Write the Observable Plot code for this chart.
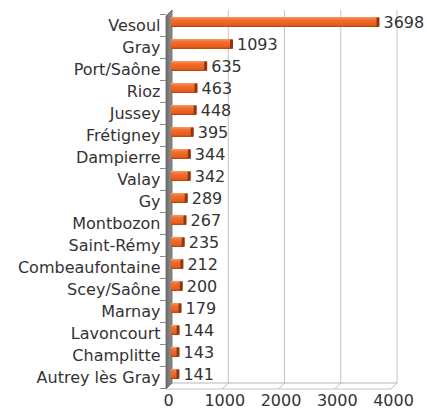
<!DOCTYPE html>
<html>
<head>
<meta charset="utf-8">
<script src="https://cdn.jsdelivr.net/npm/d3@7"></script>
<script src="https://cdn.jsdelivr.net/npm/@observablehq/plot@0.6"></script>
<style>
  body { margin: 0; background: #fff; }
  #chart svg { display: block; font-family: "DejaVu Sans", sans-serif; }
</style>
</head>
<body>
<svg width="0" height="0" style="position:absolute">
  <defs>
    <linearGradient id="barGrad" x1="0" y1="0" x2="0" y2="1">
      <stop offset="0%" stop-color="#f59a66"/>
      <stop offset="30%" stop-color="#f26c2c"/>
      <stop offset="75%" stop-color="#e85f1f"/>
      <stop offset="100%" stop-color="#b54712"/>
    </linearGradient>
    <linearGradient id="wallGrad" x1="0" y1="0" x2="1" y2="0">
      <stop offset="0%" stop-color="#6e6e6e"/>
      <stop offset="100%" stop-color="#8e8e8e"/>
    </linearGradient>
  </defs>
</svg>
<div id="chart"></div>
<script>
const categories = ["Vesoul", "Gray", "Port/Saône", "Rioz", "Jussey", "Frétigney", "Dampierre", "Valay", "Gy", "Montbozon", "Saint-Rémy", "Combeaufontaine", "Scey/Saône", "Marnay", "Lavoncourt", "Champlitte", "Autrey lès Gray"];
const values = [3698, 1093, 635, 463, 448, 395, 344, 342, 289, 267, 235, 212, 200, 179, 144, 143, 141];
const xTicks = [0, 1000, 2000, 3000, 4000];

const data = categories.map((name, i) => ({name, value: values[i]}));
const D = 6; // 3D depth offset in pixels

function frame3d(index, scales, vals, dims) {
  const {x, y} = scales;
  const top = dims.marginTop - 1;
  const bottom = dims.height - dims.marginBottom - 2.5;
  const x0 = x(xTicks[0]);
  const x1 = x(xTicks[xTicks.length - 1]);
  const g = d3.create("svg:g").attr("fill", "none");
  g.selectAll(null).data(xTicks.slice(1)).join("line")
    .attr("x1", d => x(d)).attr("x2", d => x(d))
    .attr("y1", top).attr("y2", bottom)
    .attr("stroke", "#c4c4c4");
  g.append("line").attr("x1", x0).attr("x2", x1).attr("y1", bottom).attr("y2", bottom).attr("stroke", "#b8b8b8");
  g.append("line").attr("x1", x0 - D).attr("x2", x1 - D).attr("y1", bottom + D).attr("y2", bottom + D).attr("stroke", "#c4c4c4");
  g.selectAll(null).data(xTicks.slice(1)).join("line")
    .attr("x1", d => x(d)).attr("y1", bottom)
    .attr("x2", d => x(d) - D).attr("y2", bottom + D)
    .attr("stroke", "#b8b8b8");
  g.append("path")
    .attr("d", `M${x0},${top}L${x0},${bottom}L${x0 - D},${bottom + D}L${x0 - D},${top + D}Z`)
    .attr("fill", "url(#wallGrad)").attr("stroke", "#5f5f5f").attr("stroke-width", 0.8);
  const bounds = categories.map(c => y(c)).concat([y(categories[categories.length - 1]) + y.bandwidth()]);
  g.selectAll(null).data(bounds).join("line")
    .attr("x1", x0 - D - 6).attr("x2", x0 - D)
    .attr("y1", d => d + 3.5).attr("y2", d => d + 3.5)
    .attr("stroke", "#8a8a8a");
  return g.node();
}

const chart = Plot.plot({
  width: 427,
  height: 412,
  marginLeft: 172,
  marginRight: 30,
  marginTop: 11,
  marginBottom: 26.5,
  style: {fontFamily: "DejaVu Sans, sans-serif", fontSize: "16px", color: "#333", background: "#fff"},
  x: {domain: [xTicks[0], xTicks[xTicks.length - 1]], label: null},
  y: {domain: categories, padding: 0, label: null},
  marks: [
    frame3d,
    Plot.barX(data, {x1: 0, x2: "value", y: "name", fill: "url(#barGrad)", insetTop: 6, insetBottom: 6, dx: -1}),
    Plot.tickX(data, {x: "value", y: "name", stroke: "#8e3710", strokeWidth: 3, insetTop: 6.5, insetBottom: 6.5, dx: -2.5}),
    Plot.text(data, {x: "value", y: "name", text: d => String(d.value), textAnchor: "start", dx: 3, dy: 0.5, fontSize: 16, fill: "#333"}),
    Plot.axisY({tickSize: 0, tickPadding: 12, fontSize: 16, dy: 3, fill: "#333", label: null}),
    Plot.axisX({ticks: xTicks, tickSize: 0, tickPadding: 9, fontSize: 16, dx: -4, tickFormat: d => String(d), fill: "#333", label: null})
  ]
});
document.getElementById("chart").append(chart);
</script>
</body>
</html>
